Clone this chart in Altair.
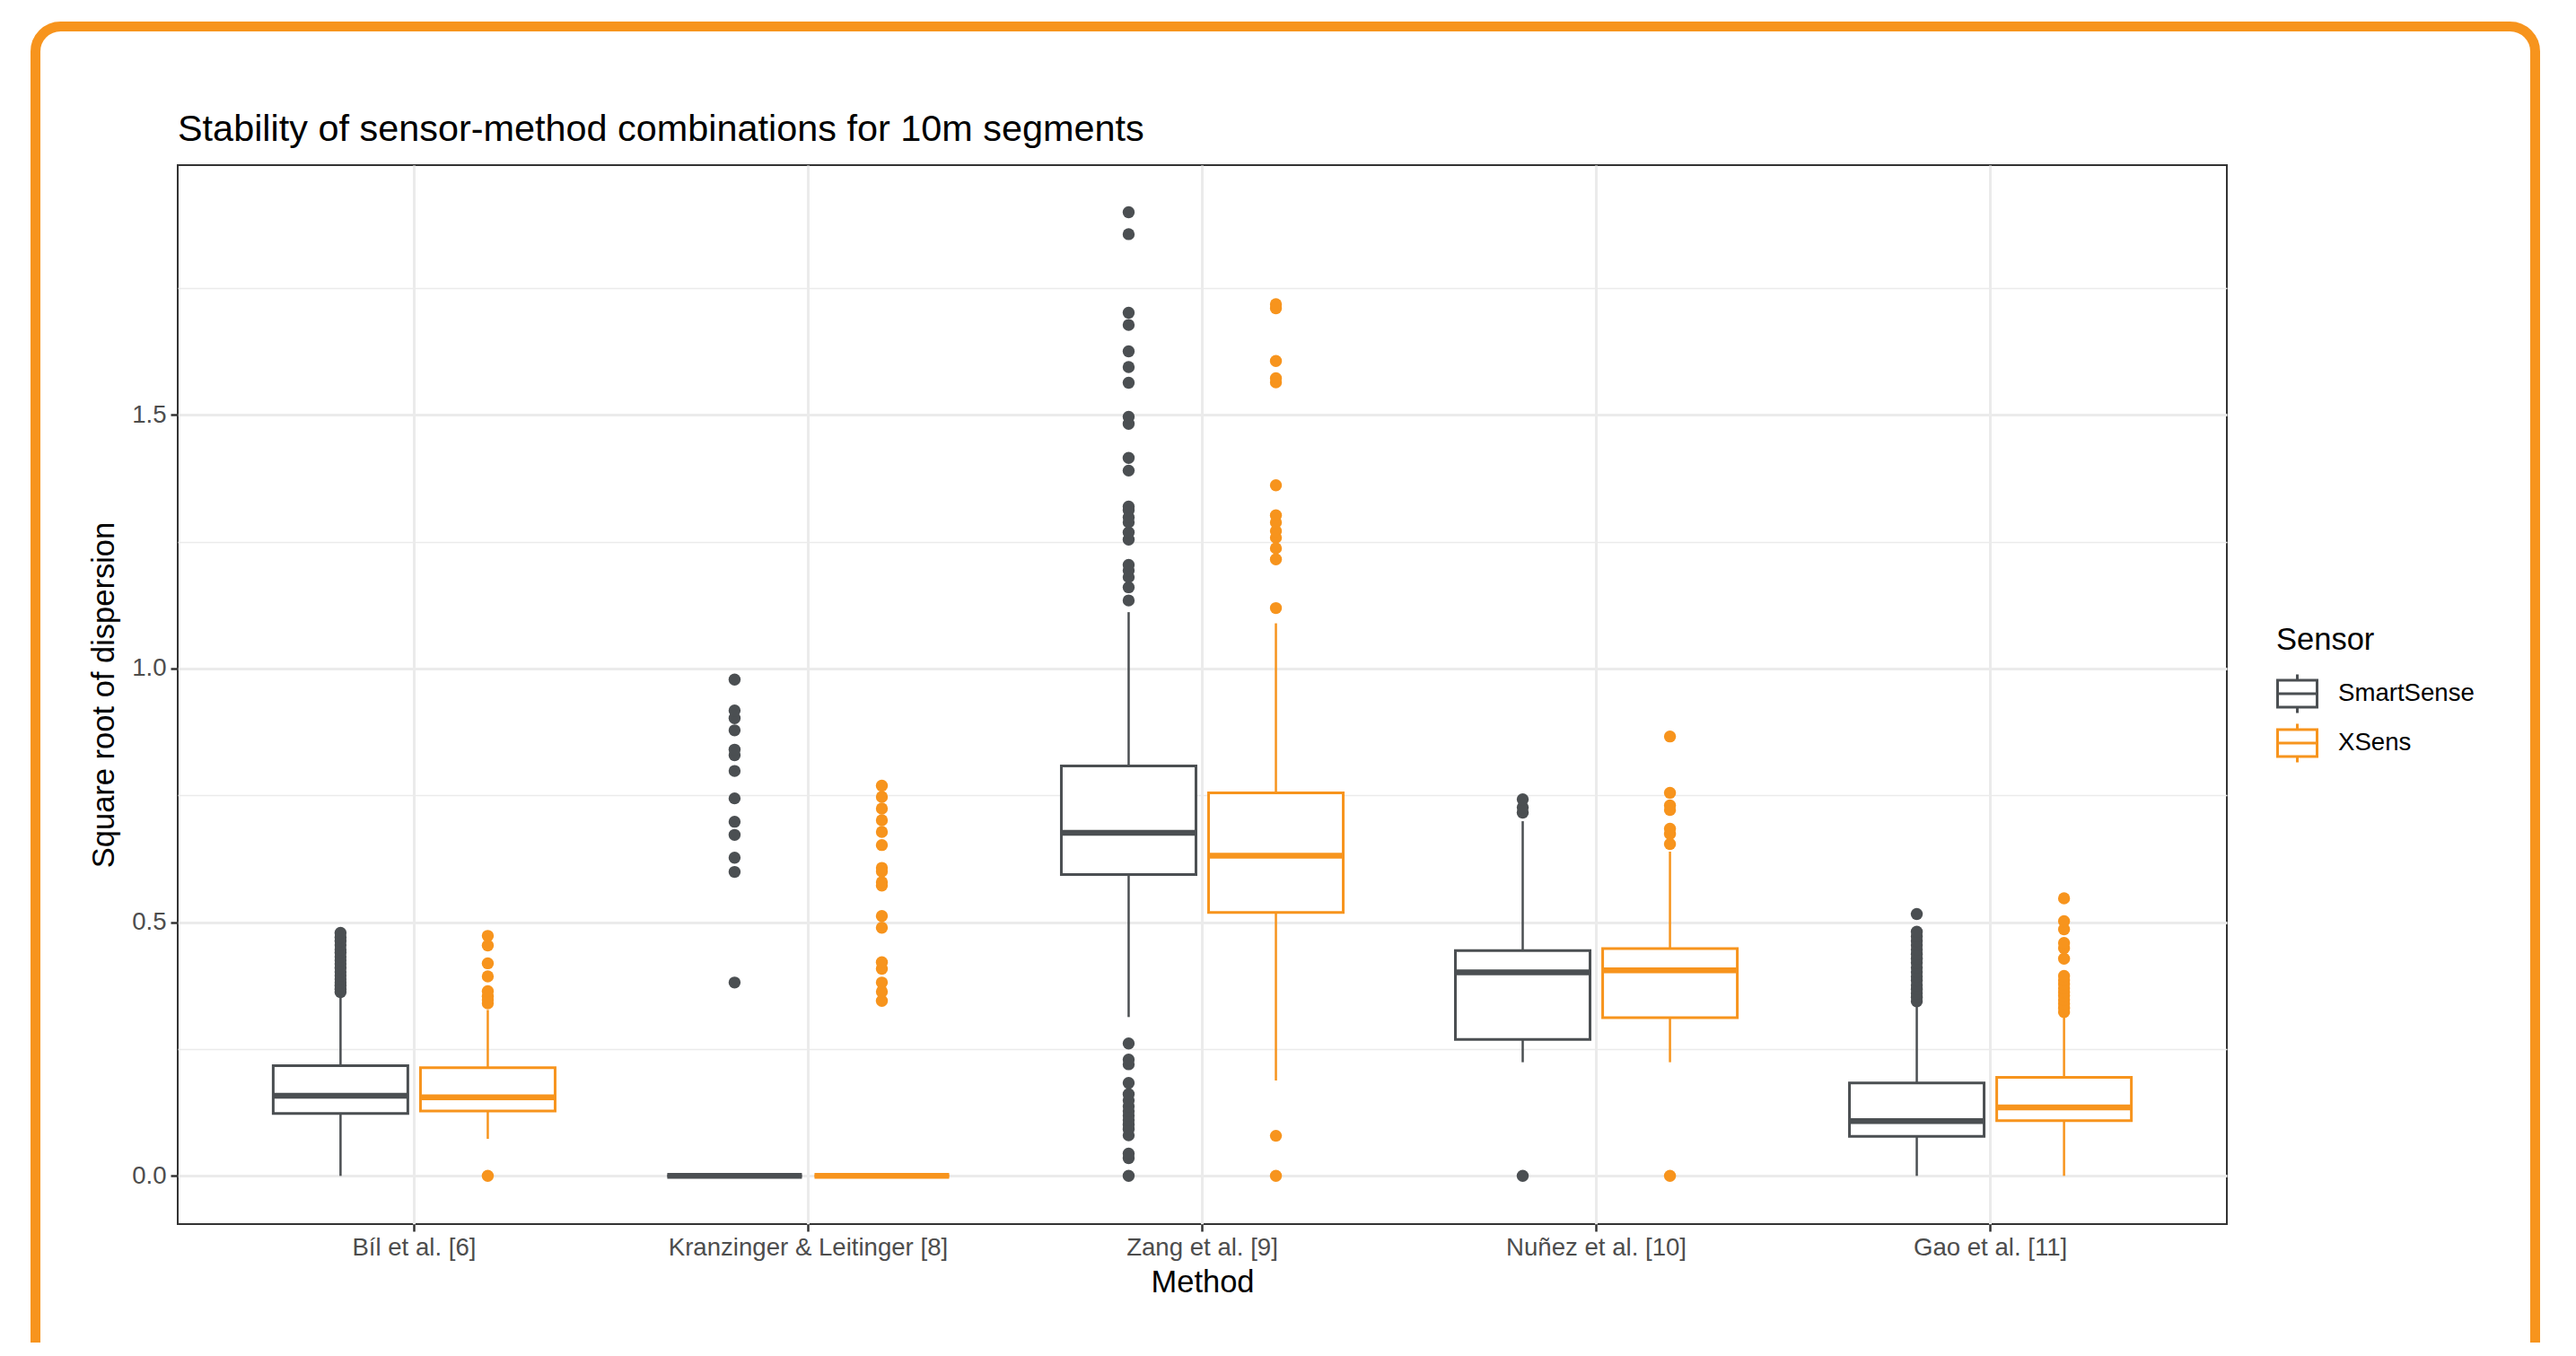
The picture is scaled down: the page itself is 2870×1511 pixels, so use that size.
import altair as alt
import pandas as pd

methods = ["Bíl et al. [6]", "Kranzinger & Leitinger [8]", "Zang et al. [9]",
           "Nuñez et al. [10]", "Gao et al. [11]"]
sensors = ["SmartSense", "XSens"]
colors = ["#4B4F52", "#F7941D"]

# Box statistics, one value per method
ss_low = [0.0, 0.0, 0.313, 0.224, 0.0]
ss_q1 = [0.123, 0.0, 0.594, 0.269, 0.078]
ss_med = [0.158, 0.0, 0.676, 0.401, 0.108]
ss_q3 = [0.217, 0.0, 0.808, 0.444, 0.183]
ss_high = [0.353, 0.0, 1.111, 0.699, 0.335]

xs_low = [0.073, 0.0, 0.188, 0.224, 0.0]
xs_q1 = [0.128, 0.0, 0.519, 0.312, 0.109]
xs_med = [0.155, 0.0, 0.631, 0.405, 0.135]
xs_q3 = [0.213, 0.0, 0.755, 0.448, 0.194]
xs_high = [0.327, 0.0, 1.089, 0.639, 0.313]

# Outliers
bil_ss = [0.362, 0.368, 0.375, 0.381, 0.388, 0.395, 0.402, 0.410, 0.418, 0.425,
          0.432, 0.440, 0.446, 0.455, 0.463, 0.470, 0.479]
bil_xs = [0.0, 0.340, 0.347, 0.354, 0.364, 0.393, 0.419, 0.454, 0.473]
kra_ss = [0.381, 0.599, 0.627, 0.672, 0.698, 0.744, 0.798, 0.829, 0.840, 0.878,
          0.902, 0.917, 0.978]
kra_xs = [0.345, 0.363, 0.381, 0.408, 0.421, 0.489, 0.512, 0.572, 0.579, 0.600,
          0.607, 0.652, 0.678, 0.701, 0.724, 0.747, 0.769]
zan_ss = [0.0, 0.035, 0.044, 0.080, 0.092, 0.101, 0.110, 0.119, 0.128, 0.137,
          0.149, 0.161, 0.183, 0.220, 0.229, 0.261,
          1.134, 1.160, 1.180, 1.193, 1.204, 1.254, 1.268, 1.288, 1.298, 1.312,
          1.319, 1.390, 1.415, 1.482, 1.496, 1.563, 1.594, 1.625, 1.677, 1.701,
          1.856, 1.899]
zan_xs = [0.0, 0.079, 1.119, 1.215, 1.237, 1.258, 1.271, 1.288, 1.302, 1.361,
          1.564, 1.572, 1.606, 1.710, 1.718]
nun_ss = [0.0, 0.716, 0.726, 0.742]
nun_xs = [0.0, 0.654, 0.674, 0.684, 0.721, 0.730, 0.755, 0.866]
gao_ss = [0.344, 0.352, 0.360, 0.368, 0.376, 0.385, 0.393, 0.402, 0.411, 0.420,
          0.428, 0.437, 0.446, 0.455, 0.463, 0.472, 0.481, 0.516]
gao_xs = [0.323, 0.331, 0.339, 0.347, 0.355, 0.362, 0.370, 0.378, 0.386, 0.394,
          0.428, 0.449, 0.459, 0.486, 0.502, 0.547]

y_ticks = [0.0, 0.25, 0.5, 0.75, 1.0, 1.25, 1.5, 1.75]
title_text = "Stability of sensor-method combinations for 10m segments"

FONT = "Liberation Sans"
F_TITLE = 41.4
F_AXTITLE = 34.5
F_LABEL = 27.6

# ---- build tables ----
rows = []
for i, m in enumerate(methods):
    rows.append(dict(Method=m, Sensor="SmartSense", low=ss_low[i], q1=ss_q1[i],
                     med=ss_med[i], q3=ss_q3[i], high=ss_high[i]))
    rows.append(dict(Method=m, Sensor="XSens", low=xs_low[i], q1=xs_q1[i],
                     med=xs_med[i], q3=xs_q3[i], high=xs_high[i]))
boxes = pd.DataFrame(rows)

out_rows = []
for m, ss, xs in zip(methods, [bil_ss, kra_ss, zan_ss, nun_ss, gao_ss],
                     [bil_xs, kra_xs, zan_xs, nun_xs, gao_xs]):
    out_rows += [dict(Method=m, Sensor="SmartSense", v=v) for v in ss]
    out_rows += [dict(Method=m, Sensor="XSens", v=v) for v in xs]
outliers = pd.DataFrame(out_rows)

yscale = alt.Scale(domain=[-0.095, 1.992], nice=False, zero=False)
xscale = alt.Scale(domain=methods, paddingInner=0, paddingOuter=0.1)
oscale = alt.Scale(domain=sensors, paddingInner=0, paddingOuter=0.338)
cscale = alt.Scale(domain=sensors, range=colors)

is_major = "datum.value % 0.5 === 0"
x_axis = alt.Axis(title="Method", bandPosition=0.5, grid=True, labelAngle=0,
                  tickSize=8, labelPadding=4, titlePadding=9, labelLimit=2000)
y_axis = alt.Axis(title="Square root of dispersion", values=y_ticks,
                  labelExpr="datum.value % 0.5 === 0 ? format(datum.value, '.1f') : ''",
                  gridWidth={"condition": {"test": is_major, "value": 3}, "value": 1.5},
                  tickOpacity={"condition": {"test": is_major, "value": 1}, "value": 0},
                  labelOverlap=False, tickSize=8, labelPadding=5, titlePadding=13)

X = alt.X("Method:N", scale=xscale, axis=x_axis)
XO = alt.XOffset("Sensor:N", scale=oscale)
C_nolegend = alt.Color("Sensor:N", scale=cscale, legend=None)

box_path = "M-1,-0.68H1V0.68H-1Z M-1,0H1 M0,-0.68V-0.98 M0,0.68V0.98"
C_legend = alt.Color("Sensor:N", scale=cscale, legend=alt.Legend(
    title="Sensor", orient="none", legendX=2338, legendY=513, padding=0,
    titleFontSize=F_AXTITLE, titleFont=FONT, titleFontWeight="normal",
    titleColor="black", titlePadding=18, labelFontSize=F_LABEL, labelFont=FONT,
    labelColor="black", labelOffset=22, symbolType=box_path, symbolSize=1936,
    symbolStrokeWidth=3, symbolFillColor="white", rowPadding=-2))

base = alt.Chart(boxes)

whisk_lo = base.mark_rule(strokeWidth=2.5).encode(
    x=X, xOffset=XO, y=alt.Y("low:Q", scale=yscale, axis=y_axis), y2="q1:Q",
    color=C_nolegend)
whisk_hi = base.mark_rule(strokeWidth=2.5).encode(
    x=X, xOffset=XO, y=alt.Y("q3:Q", scale=yscale, axis=y_axis), y2="high:Q",
    color=C_nolegend)
box_fill = base.mark_bar(color="white", size=150).encode(
    x=X, xOffset=XO, y=alt.Y("q1:Q", scale=yscale, axis=y_axis), y2="q3:Q")
box_line = base.mark_bar(filled=False, size=150, strokeWidth=3).encode(
    x=X, xOffset=XO, y=alt.Y("q1:Q", scale=yscale, axis=y_axis), y2="q3:Q",
    color=C_legend)
median = base.mark_tick(size=150, thickness=6.5, opacity=1).encode(
    x=X, xOffset=XO, y=alt.Y("med:Q", scale=yscale, axis=y_axis),
    color=C_nolegend)
points = alt.Chart(outliers).mark_circle(size=180, opacity=1).encode(
    x=X, xOffset=XO, y=alt.Y("v:Q", scale=yscale, axis=y_axis),
    color=C_nolegend)

one = alt.Data(values=[{"k": 1}])
frame = alt.Chart(one).mark_rect(
    fillOpacity=0, stroke="#F7941D", strokeWidth=11, cornerRadius=28).encode(
    x=alt.value(-158.5), x2=alt.value(2626.5), y=alt.value(-154.5), y2=alt.value(1400))
title = alt.Chart(one).mark_text(
    text=title_text, font=FONT, fontSize=F_TITLE, color="black", align="left",
    baseline="alphabetic").encode(x=alt.value(0), y=alt.value(-27))

chart = alt.layer(
    whisk_lo, whisk_hi, box_fill, box_line, median, points, frame, title
).resolve_legend(color="independent").properties(
    width=2283, height=1180,
    padding={"left": 190, "top": 176, "right": 381, "bottom": 132},
    autosize=alt.AutoSizeParams(type="none"),
).configure(background="white").configure_view(
    stroke="#333333", strokeWidth=2
).configure_axis(
    labelFont=FONT, titleFont=FONT, labelFontSize=F_LABEL, titleFontSize=F_AXTITLE,
    labelColor="#4D4D4D", titleColor="black", titleFontWeight="normal",
    tickColor="#333333", tickWidth=2.5, gridColor="#EBEBEB", gridWidth=3,
    domain=False
)

chart.save("out.html", embed_options={"renderer": "svg", "actions": False})
